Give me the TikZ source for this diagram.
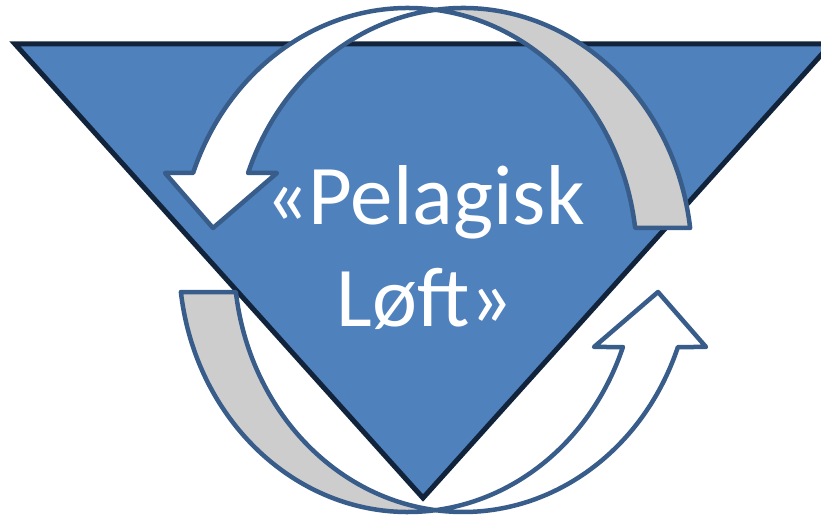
\documentclass[tikz,border=0pt]{standalone}
\usepackage{fontspec}
\newfontfamily\calibri{Carlito}
\usepackage{xcolor}
\definecolor{triblue}{HTML}{4F81BD}
\definecolor{tridark}{HTML}{12243C}
\definecolor{arrowline}{HTML}{385D8A}
\definecolor{backgrey}{HTML}{CDCDCD}
\tikzstyle{tri}=[draw=tridark, fill=triblue, line width=5pt]
\tikzstyle{front}=[draw=arrowline, fill=white, line width=4.5pt, line join=round]
\tikzstyle{back}=[draw=arrowline, fill=backgrey, line width=4.5pt, line join=round]
\tikzstyle{title}=[text=white, align=center, inner sep=0,
		font=\calibri\fontsize{85}{102}\selectfont]

\begin{document}
\begin{tikzpicture}[x=1pt, y=1pt]
	\useasboundingbox (0,0) rectangle (821,518);
	\clip (0,0) rectangle (821,518);
	\draw[tri] (15,474) -- (831,474) -- (423,20) -- cycle;
	\foreach \r in {0,180} {
		\begin{scope}[rotate around={\r:(435.5,258)}]
			\draw[back] ([shift={(408,258)}]83.1:229 and 252)
				arc[start angle=83.1, end angle=7.3, x radius=229, y radius=252]
				-- ([shift={(463,258)}]7.3:229 and 252)
				arc[start angle=7.3, end angle=96.9, x radius=229, y radius=252] -- cycle;
			\draw[front] ([shift={(408,258)}]159.8:229 and 252)
				arc[start angle=159.8, end angle=83.1, x radius=229, y radius=252]
				-- ([shift={(463,258)}]96.9:229 and 252)
				arc[start angle=96.9, end angle=159.8, x radius=229, y radius=252]
				-- (277,345) -- (213,290) -- (165,345) -- cycle;
		\end{scope}
	}
	\node[title] (pelagisk) at (425,270) {«Pelagisk\\Løft»};
\end{tikzpicture}
\end{document}
